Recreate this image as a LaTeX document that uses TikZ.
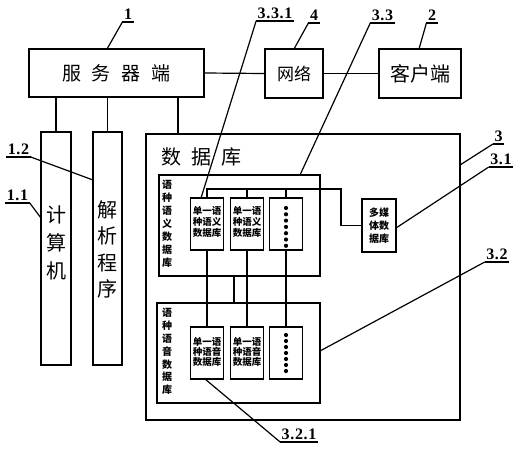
\documentclass[tikz,border=0pt]{standalone}
\usepackage{fontspec}
\newfontfamily\cjk{Noto Sans CJK SC}
\newfontfamily\lblfont[LetterSpace=4]{Liberation Serif}
\begin{document}
\begin{tikzpicture}[x=1pt,y=-1pt, line width=1.2pt,
  box/.style={draw, rectangle, inner sep=0pt},
  lbl/.style={font=\lblfont\bfseries\fontsize{16}{16}\selectfont, inner xsep=1pt, inner ysep=1.5pt, anchor=south},
  vtext/.style={align=center, inner sep=0pt},
  smalltxt/.style={align=center, inner sep=0pt, font=\cjk\bfseries\fontsize{9.5}{11}\selectfont},
  dbbox/.style={box, minimum width=33pt, minimum height=52pt},
]
\useasboundingbox (0,0) rectangle (524,450);

% top row
\node[box, minimum width=175pt, minimum height=48pt, font=\cjk\fontsize{19}{19}\selectfont] (server) at (116.5,73) {服\hspace{11pt}务\hspace{11pt}器\hspace{11pt}端};
\node[box, minimum width=58pt, minimum height=49pt, font=\cjk\fontsize{17}{17}\selectfont] (net) at (294,73.5) {网络};
\node[box, minimum width=82pt, minimum height=49pt, font=\cjk\fontsize{20}{20}\selectfont] (client) at (420,73.5) {客户端};
\draw (server.east) -- (net.west);
\draw (net.east) -- (client.west);

% computer and parser
\node[box, minimum width=30pt, minimum height=233pt] (comp) at (56,248.5) {};
\node[vtext, font=\cjk\fontsize{20}{28}\selectfont] (comptxt) at (56,243) {计\\算\\机};
\node[box, minimum width=29pt, minimum height=233pt] (pars) at (107.5,248.5) {};
\node[vtext, font=\cjk\fontsize{20}{26.3}\selectfont] (parstxt) at (107.5,249.5) {解\\析\\程\\序};
\draw (comp.north |- server.south) -- (comp.north);
\draw (pars.north |- server.south) -- (pars.north);

% database
\node[box, minimum width=314pt, minimum height=286pt] (db) at (303,277) {};
\node[anchor=west, inner sep=0pt, font=\cjk\fontsize{20}{20}\selectfont] (dbtitle) at (161,157) {数\hspace{10pt}据\hspace{10pt}库};
\coordinate (dbtop) at (178,134);
\draw (dbtop |- server.south) -- (dbtop);

% semantic database
\node[box, minimum width=161pt, minimum height=101pt] (sem) at (239.5,225.5) {};
\node[vtext, font=\cjk\bfseries\fontsize{10}{13}\selectfont] (semtxt) at (167,224) {语\\种\\语\\义\\数\\据\\库};
\node[dbbox] (s1) at (207,224) {};
\node[dbbox] (s2) at (247,224) {};
\node[dbbox] (s3) at (286,224) {};
\node[smalltxt] (s1t) at (207,221.5) {单一语\\种语义\\数据库};
\node[smalltxt] (s2t) at (247,221.5) {单一语\\种语义\\数据库};
\foreach \i in {0,...,6} \fill (286,{208+\i*6.3}) circle (2.1pt);

% multimedia
\node[box, minimum width=34pt, minimum height=53pt] (mm) at (379,225.5) {};
\node[vtext, font=\cjk\bfseries\fontsize{10}{13}\selectfont] (mmt) at (379,226) {多媒\\体数\\据库};

% bus
\coordinate (busR) at (341,189);
\draw (s1.north) |- (busR) |- (mm.west);
\draw (s2.north) -- (s2.north |- busR);
\draw (s3.north) -- (s3.north |- busR);

% phonetic database
\node[box, minimum width=163pt, minimum height=100pt] (phon) at (238.5,353) {};
\node[vtext, font=\cjk\bfseries\fontsize{10}{12.8}\selectfont] (phontxt) at (167,351.5) {语\\种\\语\\音\\数\\据\\库};
\node[dbbox] (p1) at (207,353) {};
\node[dbbox] (p2) at (247,353) {};
\node[dbbox] (p3) at (286,353) {};
\node[smalltxt, font=\cjk\bfseries\fontsize{9.5}{10}\selectfont] (p1t) at (207,351.5) {单一语\\种语音\\数据库};
\node[smalltxt, font=\cjk\bfseries\fontsize{9.5}{10}\selectfont] (p2t) at (247,351.5) {单一语\\种语音\\数据库};
\foreach \i in {0,...,6} \fill (286,{335+\i*6}) circle (2.1pt);

\draw (s1.south) -- (p1.north);
\draw (s2.south) -- (p2.north);
\draw (s3.south) -- (p3.north);
\coordinate (sp) at (234,276);
\draw (sp) -- (sp |- phon.north);

% leader targets
\coordinate (t1) at (107,49);
\coordinate (t4) at (294,49);
\coordinate (t2) at (419,49);
\coordinate (t331) at (201,198);
\coordinate (t33) at (300,175);
\coordinate (t3) at (460,165);
\coordinate (t31) at (396,228);
\coordinate (t32) at (320,351);
\coordinate (t321) at (205,379);
\coordinate (t12) at (93,180);
\coordinate (t11) at (41,218);

% labels
\node[lbl] (L1) at (128,22) {1};
\node[lbl] (L4) at (314,23) {4};
\node[lbl] (L2) at (432,23) {2};
\node[lbl] (L331) at (275,21) {3.3.1};
\node[lbl] (L33) at (382.5,23) {3.3};
\node[lbl] (L3) at (498.5,144) {3};
\node[lbl] (L31) at (501,167) {3.1};
\node[lbl] (L32) at (497,262) {3.2};
\node[lbl] (L321) at (299,442) {3.2.1};
\node[lbl] (L12) at (18.5,157) {1.2};
\node[lbl] (L11) at (17.5,203) {1.1};

\foreach \n in {L1,L4,L2,L331,L33,L3,L31,L32,L321,L12,L11}
  \draw (\n.south west) -- (\n.south east);

\draw (L1.south west) -- (t1);
\draw (L4.south west) -- (t4);
\draw (L2.south west) -- (t2);
\draw (L331.south west) -- (t331);
\draw (L33.south west) -- (t33);
\draw (L3.south west) -- (t3);
\draw (L31.south west) -- (t31);
\draw (L32.south west) -- (t32);
\draw (L321.south west) -- (t321);
\draw (L12.south east) -- (t12);
\draw (L11.south east) -- (t11);
\end{tikzpicture}
\end{document}
